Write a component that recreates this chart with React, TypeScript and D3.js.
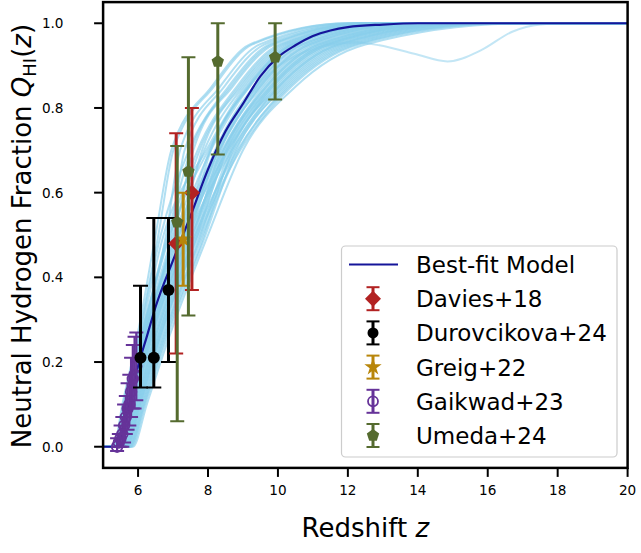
import React from 'react';
import * as d3 from 'd3';

// ---------- axis ticks ----------
const xTicks = [6, 8, 10, 12, 14, 16, 18, 20];
const yTicks = [0.0, 0.2, 0.4, 0.6, 0.8, 1.0];

// ---------- best-fit model ----------
const bestZ = [5.0, 5.4, 5.5, 5.75, 6.0, 6.25, 6.5, 7.0, 7.5, 8.0, 8.5, 9.0, 9.5, 10.0, 10.5, 11.0, 11.5, 12.0, 13.0, 14.0, 20.0];
const bestQ = [0, 0, 0.02, 0.10, 0.19, 0.26, 0.33, 0.44, 0.545, 0.655, 0.745, 0.81, 0.875, 0.92, 0.948, 0.97, 0.983, 0.991, 0.997, 1.0, 1.0];

// ---------- posterior sample curves: redshift at which each curve reaches these Q levels ----------
const sampleLevels = [0, 0.1, 0.25, 0.5, 0.7, 0.85, 0.95, 1.0];
const sampleCurvesZ = [
  [5.30, 5.55, 5.95, 6.50, 6.95, 8.10, 9.20, 12.00],
  [5.85, 6.25, 6.85, 8.00, 9.00, 10.50, 12.50, 17.00],
  [5.32, 5.59, 6.00, 6.65, 7.45, 8.58, 9.76, 12.60],
  [5.34, 5.63, 6.05, 6.80, 7.20, 8.34, 9.48, 12.30],
  [5.35, 5.65, 6.08, 6.88, 7.70, 8.82, 10.04, 12.90],
  [5.37, 5.69, 6.13, 7.03, 7.58, 8.70, 9.90, 12.75],
  [5.38, 5.71, 6.15, 7.10, 8.08, 9.18, 10.46, 13.35],
  [5.39, 5.73, 6.18, 7.18, 7.83, 8.94, 10.18, 13.05],
  [5.45, 5.80, 6.27, 7.33, 8.20, 9.30, 10.60, 13.50],
  [5.49, 5.85, 6.33, 7.40, 8.44, 9.66, 11.17, 14.55],
  [5.54, 5.90, 6.40, 7.48, 8.28, 9.42, 10.79, 13.85],
  [5.58, 5.95, 6.46, 7.55, 8.60, 9.90, 11.55, 15.25],
  [5.63, 6.00, 6.53, 7.63, 8.48, 9.72, 11.27, 14.73],
  [5.67, 6.05, 6.59, 7.70, 8.76, 10.14, 11.93, 15.95],
  [5.72, 6.10, 6.66, 7.78, 8.64, 9.96, 11.65, 15.43],
  [5.76, 6.15, 6.72, 7.85, 8.88, 10.32, 12.22, 16.48],
  [5.81, 6.20, 6.79, 7.93, 8.80, 10.20, 12.03, 16.13],
  [5.31, 5.57, 5.98, 6.58, 7.01, 8.16, 9.27, 12.08],
  [5.33, 5.61, 6.03, 6.73, 7.95, 9.06, 10.32, 13.20],
  [5.36, 5.67, 6.10, 6.95, 7.33, 8.46, 9.62, 12.45],
  [5.40, 5.75, 6.20, 7.25, 8.05, 9.14, 10.40, 13.30],
  [5.51, 5.88, 6.36, 7.44, 8.68, 10.02, 11.74, 15.60],
  [5.60, 5.98, 6.49, 7.59, 8.36, 9.54, 10.98, 14.20],
  [5.69, 6.08, 6.62, 7.74, 8.92, 10.38, 12.31, 16.65],
  [5.47, 5.83, 6.30, 7.36, 8.32, 9.48, 10.89, 14.03],
  [5.39, 5.72, 6.16, 7.14, 8.24, 9.36, 10.70, 13.68],
  [5.56, 5.93, 6.43, 7.51, 8.52, 9.78, 11.36, 14.90],
  [5.65, 6.03, 6.56, 7.66, 8.56, 9.84, 11.46, 15.08],
  [5.38, 5.70, 6.14, 7.06, 7.89, 9.00, 10.25, 13.13],
  [5.74, 6.13, 6.69, 7.81, 8.72, 10.08, 11.84, 15.78],
  [5.37, 5.68, 6.11, 6.99, 7.76, 8.88, 10.11, 12.98],
  [5.42, 5.78, 6.23, 7.29, 8.40, 9.60, 11.08, 14.38],
  [5.51, 5.88, 6.36, 7.44, 8.24, 9.36, 10.70, 13.68],
  [5.58, 5.95, 6.46, 7.55, 8.44, 9.66, 11.17, 14.55],
  [5.36, 5.66, 6.09, 6.91, 8.01, 9.12, 10.39, 13.28],
  [5.67, 6.05, 6.59, 7.70, 8.52, 9.78, 11.36, 14.90],
  [5.39, 5.73, 6.18, 7.18, 8.32, 9.48, 10.89, 14.03],
  [5.49, 5.85, 6.33, 7.40, 8.08, 9.18, 10.46, 13.35],
  [5.78, 6.18, 6.75, 7.89, 8.68, 10.02, 11.74, 15.60],
  [5.35, 5.64, 6.06, 6.84, 7.51, 8.64, 9.83, 12.68],
  [5.63, 6.00, 6.53, 7.63, 8.84, 10.26, 12.12, 16.30],
  [5.45, 5.80, 6.27, 7.33, 8.56, 9.84, 11.46, 15.08],
];
// one sample with a late dip
const dipZ = [5.0, 5.45, 5.8, 6.3, 7.3, 8.3, 9.4, 10.7, 12.2, 12.9, 13.9, 14.85, 15.8, 16.7, 17.5, 18.2, 20.0];
const dipQ = [0, 0, 0.1, 0.25, 0.5, 0.7, 0.85, 0.93, 0.955, 0.948, 0.928, 0.91, 0.936, 0.98, 0.997, 1.0, 1.0];

// ---------- observational constraints ----------
const daviesZ = [7.09, 7.54];
const daviesQ = [0.48, 0.60];
const daviesUp = [0.26, 0.20];
const daviesDn = [0.26, 0.23];

const durovZ = [6.07, 6.45, 6.87];
const durovQ = [0.21, 0.21, 0.37];
const durovUp = [0.17, 0.33, 0.17];
const durovDn = [0.07, 0.07, 0.17];

const greigZ = [7.29];
const greigQ = [0.49];
const greigUp = [0.11];
const greigDn = [0.11];

const gaikZ = [5.40, 5.45, 5.50, 5.55, 5.60, 5.65, 5.70, 5.75, 5.80, 5.85, 5.90, 5.95];
const gaikQ = [0.00, 0.01, 0.02, 0.03, 0.05, 0.07, 0.09, 0.10, 0.13, 0.16, 0.17, 0.19];
const gaikUp = [0.02, 0.02, 0.03, 0.04, 0.05, 0.05, 0.06, 0.07, 0.08, 0.08, 0.09, 0.08];
const gaikDn = [0.01, 0.01, 0.02, 0.03, 0.04, 0.04, 0.05, 0.05, 0.06, 0.07, 0.08, 0.08];

const umedaZ = [7.12, 7.44, 8.28, 9.92];
const umedaQ = [0.53, 0.65, 0.91, 0.92];
const umedaUp = [0.18, 0.27, 0.09, 0.08];
const umedaDn = [0.47, 0.34, 0.22, 0.10];

const legendLabels = ['Best-fit Model', 'Davies+18', 'Durovcikova+24', 'Greig+22', 'Gaikwad+23', 'Umeda+24'];

// ---------- layout ----------
const W = 641, H = 553;
const x = d3.scaleLinear().domain([5, 20]).range([103.1, 627.6]);
const y = d3.scaleLinear().domain([-0.05, 1.05]).range([467.9, 2.1]);
const FONT = 'DejaVu Sans, sans-serif';

const C = {
  band: '#87ceeb',
  best: '#15159a',
  davies: '#b22222',
  durov: '#000000',
  greig: '#b8860b',
  gaik: '#663399',
  umeda: '#556b2f',
};

type Shape = 'diamond' | 'circle' | 'star' | 'open' | 'pentagon';

function markerPath(shape: Shape, r: number): string {
  if (shape === 'diamond') return `M0,${-r}L${r},0L0,${r}L${-r},0Z`;
  if (shape === 'pentagon') {
    const pts = d3.range(5).map(i => {
      const a = -Math.PI / 2 + (i * 2 * Math.PI) / 5;
      return [r * Math.cos(a), r * Math.sin(a)];
    });
    return 'M' + pts.map(p => p.join(',')).join('L') + 'Z';
  }
  if (shape === 'star') return d3.symbol().type(d3.symbolStar).size(r * r * 2.2)() as string;
  return d3.symbol().type(d3.symbolCircle).size(Math.PI * r * r)() as string;
}

function Marker({ shape, cx, cy, color, r }: { shape: Shape; cx: number; cy: number; color: string; r: number }) {
  if (shape === 'open') {
    return <circle cx={cx} cy={cy} r={r} fill="none" stroke={color} strokeWidth={1.8} />;
  }
  return <path d={markerPath(shape, r)} transform={`translate(${cx},${cy})`} fill={color} />;
}

function ErrSeries({ zs, qs, up, dn, color, shape, r, cap, lw }: any) {
  return (
    <g>
      {zs.map((z: number, i: number) => {
        const cx = x(z);
        const y1 = y(qs[i] + up[i]);
        const y2 = y(qs[i] - dn[i]);
        return (
          <g key={i}>
            <line x1={cx} x2={cx} y1={y1} y2={y2} stroke={color} strokeWidth={lw} />
            <line x1={cx - cap} x2={cx + cap} y1={y1} y2={y1} stroke={color} strokeWidth={2} />
            <line x1={cx - cap} x2={cx + cap} y1={y2} y2={y2} stroke={color} strokeWidth={2} />
            <Marker shape={shape} cx={cx} cy={y(qs[i])} color={color} r={r} />
          </g>
        );
      })}
    </g>
  );
}

export default function App() {
  const line = d3
    .line<[number, number]>()
    .x(d => x(d[0]))
    .y(d => y(d[1]))
    .curve(d3.curveMonotoneX);

  const samplePaths = sampleCurvesZ.map(zs => {
    const pts: [number, number][] = [[5, 0]];
    zs.forEach((z, k) => pts.push([z, sampleLevels[k]]));
    pts.push([20, 1]);
    return line(pts) as string;
  });
  const dipPath = line(dipZ.map((z, i) => [z, dipQ[i]] as [number, number])) as string;
  const bestPath = line(bestZ.map((z, i) => [z, bestQ[i]] as [number, number])) as string;

  const x0 = x(5), x1 = x(20), yTop = y(1.05), yBot = y(-0.05);

  const legendRows = legendLabels.map((_, i) => 264.5 + i * 34.2);
  const lx = 373;
  const legendSeries: { color: string; shape: Shape; r: number }[] = [
    { color: C.davies, shape: 'diamond', r: 8 },
    { color: C.durov, shape: 'circle', r: 5.5 },
    { color: C.greig, shape: 'star', r: 6.5 },
    { color: C.gaik, shape: 'open', r: 5 },
    { color: C.umeda, shape: 'pentagon', r: 6.5 },
  ];

  return (
    <svg width={W} height={H} style={{ position: 'absolute', left: 0, top: 0, background: '#fff' }} fontFamily={FONT}>
      <defs>
        <clipPath id="plotclip">
          <rect x={x0} y={yTop} width={x1 - x0} height={yBot - yTop} />
        </clipPath>
      </defs>
      <rect x={0} y={0} width={W} height={H} fill="#fff" />

      <g clipPath="url(#plotclip)">
        {samplePaths.map((d, i) => (
          <path key={i} d={d} fill="none" stroke={C.band} strokeWidth={2} strokeOpacity={0.65} />
        ))}
        <path d={dipPath} fill="none" stroke={C.band} strokeWidth={2} strokeOpacity={0.5} />
        <path d={bestPath} fill="none" stroke={C.best} strokeWidth={2.2} />

        <ErrSeries zs={gaikZ} qs={gaikQ} up={gaikUp} dn={gaikDn} color={C.gaik} shape="open" r={5.3} cap={7} lw={2.2} />
        <ErrSeries zs={durovZ} qs={durovQ} up={durovUp} dn={durovDn} color={C.durov} shape="circle" r={6} cap={7.5} lw={3} />
        <ErrSeries zs={daviesZ} qs={daviesQ} up={daviesUp} dn={daviesDn} color={C.davies} shape="diamond" r={8} cap={7} lw={3} />
        <ErrSeries zs={greigZ} qs={greigQ} up={greigUp} dn={greigDn} color={C.greig} shape="star" r={6.5} cap={7} lw={3} />
        <ErrSeries zs={umedaZ} qs={umedaQ} up={umedaUp} dn={umedaDn} color={C.umeda} shape="pentagon" r={6.5} cap={7} lw={3} />
      </g>

      {/* frame */}
      <rect x={x0} y={yTop} width={x1 - x0} height={yBot - yTop} fill="none" stroke="#000" strokeWidth={2.5} />

      {/* x ticks */}
      {xTicks.map(t => (
        <g key={t}>
          <line x1={x(t)} x2={x(t)} y1={yBot} y2={yBot + 9} stroke="#000" strokeWidth={2} />
          <text x={x(t)} y={yBot + 27} textAnchor="middle" fontSize={13.6} fill="#000">
            {t}
          </text>
        </g>
      ))}
      {/* y ticks */}
      {yTicks.map(t => (
        <g key={t}>
          <line x1={x0 - 9} x2={x0} y1={y(t)} y2={y(t)} stroke="#000" strokeWidth={2} />
          <text x={63.5} y={y(t) + 5} textAnchor="end" fontSize={13.6} fill="#000">
            {t.toFixed(1)}
          </text>
        </g>
      ))}

      {/* axis labels */}
      <text x={(x0 + x1) / 2} y={537} textAnchor="middle" fontSize={26} fill="#000">
        Redshift <tspan fontStyle="italic">z</tspan>
      </text>
      <text transform={`translate(31,236) rotate(-90)`} textAnchor="middle" fontSize={26} fill="#000">
        Neutral Hydrogen Fraction <tspan fontStyle="italic">Q</tspan>
        <tspan fontSize={18} dy={5}>HI</tspan>
        <tspan dy={-5}>(</tspan>
        <tspan fontStyle="italic">z</tspan>)
      </text>

      {/* legend */}
      <rect x={341.5} y={246} width={275.5} height={211} rx={4} fill="#fff" fillOpacity={0.8} stroke="#cccccc" strokeWidth={1.2} />
      <line x1={349} x2={398} y1={legendRows[0]} y2={legendRows[0]} stroke={C.best} strokeWidth={2.2} />
      {legendSeries.map((s, i) => {
        const cy = legendRows[i + 1];
        return (
          <g key={i}>
            <line x1={lx} x2={lx} y1={cy - 11.5} y2={cy + 11.5} stroke={s.color} strokeWidth={3} />
            <line x1={lx - 6.5} x2={lx + 6.5} y1={cy - 11.5} y2={cy - 11.5} stroke={s.color} strokeWidth={2} />
            <line x1={lx - 6.5} x2={lx + 6.5} y1={cy + 11.5} y2={cy + 11.5} stroke={s.color} strokeWidth={2} />
            <Marker shape={s.shape} cx={lx} cy={cy} color={s.color} r={s.r} />
          </g>
        );
      })}
      {legendLabels.map((t, i) => (
        <text key={t} x={416} y={legendRows[i] + 8.4} fontSize={23} fill="#000">
          {t}
        </text>
      ))}
    </svg>
  );
}
